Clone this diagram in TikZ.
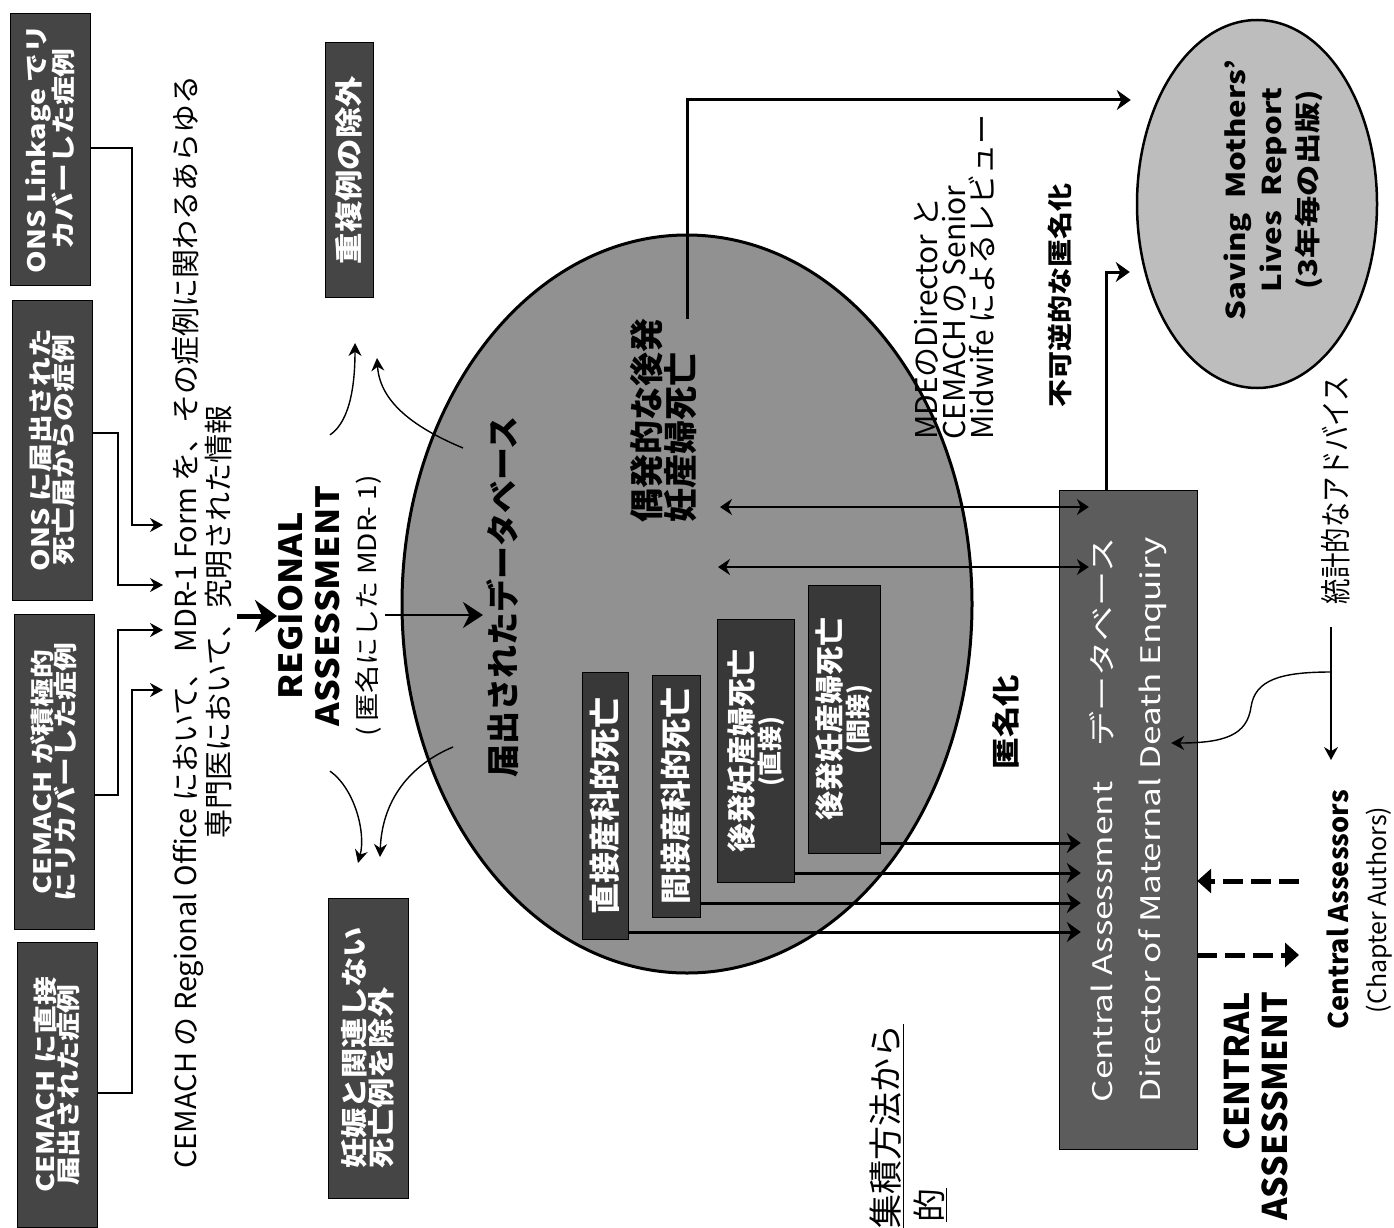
\documentclass[tikz,border=0pt]{standalone}
\usepackage{fontspec}
\setmainfont{Noto Sans CJK JP}
\newfontfamily\jpwide{Noto Sans CJK JP}[FakeStretch=1.2]
\newfontfamily\jpmid{Noto Sans CJK JP}[FakeStretch=1.12]
\newfontfamily\jpnarrow{Noto Sans CJK JP}[FakeStretch=0.82]
\newfontfamily\jpcentral{Noto Sans CJK JP}[FakeStretch=1.3]
\usetikzlibrary{arrows.meta,shapes.geometric}
\definecolor{BoxDark}{gray}{0.27}
\definecolor{InnerDark}{gray}{0.22}
\definecolor{DbGray}{gray}{0.57}
\definecolor{ReportGray}{gray}{0.74}
\definecolor{CentralGray}{gray}{0.36}
\tikzset{
  srcbox/.style={rotate=90,draw=black,fill=BoxDark,text=white,align=center,inner sep=2pt,minimum height=80pt,font=\jpwide\bfseries\fontsize{24}{23}\selectfont},
  exclbox/.style={rotate=90,draw=black,fill=BoxDark,text=white,inner sep=2pt,font=\jpmid\bfseries\fontsize{27}{25}\selectfont},
  innerbox/.style={rotate=90,draw=black,fill=InnerDark,text=white,align=center,inner sep=2pt,font=\bfseries\fontsize{31}{28}\selectfont},
  lbl/.style={rotate=90,inner sep=0pt,align=center},
  conn/.style={-{Stealth[length=13pt,width=14pt]},line width=1.4pt},
  thickconn/.style={-{Stealth[length=14pt,width=20pt]},line width=3pt},
  twoway/.style={{Stealth[length=12pt,width=16pt]}-{Stealth[length=12pt,width=16pt]},line width=1.3pt},
  dashconn/.style={-{Triangle[length=14pt,width=24pt]},line width=5pt,dash pattern=on 20pt off 8pt},
  curvearrow/.style={-{Stealth[length=13pt,width=13pt]},line width=1.4pt}
}
\begin{document}
\begin{tikzpicture}[x=1pt,y=-1pt]
\clip (0,0) rectangle (1394,1228);
\fill[white] (0,0) rectangle (1394,1228);

\node[srcbox,minimum width=272pt] (srcA) at (50,149) {ONS Linkage でリ\\カバーした症例};
\node[srcbox,minimum width=300pt] (srcB) at (52,450) {ONS に届出された\\死亡届からの症例};
\node[srcbox,minimum width=315pt] (srcC) at (54,772) {CEMACH が積極的\\にリカバーした症例};
\node[srcbox,minimum width=285pt] (srcD) at (57,1085) {CEMACH に直接\\届出された症例};

\node[lbl,font=\fontsize{29}{28}\selectfont] (msg) at (202,622) {CEMACH の Regional Office において、 MDR-1 Form を、その症例に関わるあらゆる\\専門医において、究明された情報};
\coordinate (msgA) at (163,525);
\coordinate (msgB) at (163,585);
\coordinate (msgC) at (163,630);
\coordinate (msgD) at (163,690);
\draw[conn] (srcA.south |- 0,148) -| (132,525) -- (msgA);
\draw[conn] (srcB.south |- 0,433) -| (118,585) -- (msgB);
\draw[conn] (srcC.south |- 0,795) -| (118,630) -- (msgC);
\draw[conn] (srcD.south |- 0,1093) -| (132,690) -- (msgD);

\node[lbl,font=\jpmid\bfseries\fontsize{32}{37}\selectfont] (regional) at (330,606) {REGIONAL\\ASSESSMENT\\{\mdseries\fontsize{25}{34}\selectfont ( 匿名にした MDR- 1)}};
\coordinate (msgOut) at (237,616);
\coordinate (regIn) at (277,616);
\draw[line width=5pt,-{Stealth[length=22pt,width=32pt]}] (msgOut) -- (regIn);

\node[ellipse,draw,line width=3pt,fill=DbGray,minimum width=570pt,minimum height=738pt,inner sep=0pt] (db) at (687,604) {};
\node[ellipse,rotate=90,draw,line width=2.5pt,fill=ReportGray,minimum width=368pt,minimum height=240pt,inner sep=0pt] (report) at (1257,204) {};
\node[lbl,font=\jpwide\bfseries\fontsize{26}{36}\selectfont] (reportTxt) at (1273,190) {Saving\ \ Mothers’\\Lives\ \ Report\\(3年毎の出版)};

\coordinate (regOut) at (385,615);
\coordinate (dbIn) at (483,615);
\draw[line width=2.5pt,-{Stealth[length=20pt,width=26pt]}] (regOut) -- (dbIn);

\node[exclbox,minimum width=300pt,minimum height=80pt,align=left] (exclA) at (368,1048) {妊娠と関連しない\\死亡例を除外};
\node[exclbox,minimum width=255pt,minimum height=48pt,align=center,font=\jpmid\bfseries\fontsize{28}{28}\selectfont] (exclB) at (349,170) {重複例の除外};
\coordinate (exA) at (358,863);
\coordinate (exB) at (380,857);
\coordinate (dupA) at (355,343);
\coordinate (dupB) at (377,358);
\coordinate (dbL) at (453,747);
\coordinate (dbU) at (463,448);
\draw[curvearrow] ([yshift=-34pt]regional.west) .. controls +(25,18) and +(8,-30) .. (exA);
\draw[curvearrow] (dbL) .. controls (410,765) and (382,800) .. (exB);
\draw[curvearrow] ([yshift=40pt]regional.east) .. controls +(22,-15) and +(0,35) .. (dupA);
\draw[curvearrow] (dbU) .. controls (420,430) and (380,405) .. (dupB);

\node[lbl,font=\bfseries\fontsize{33}{33}\selectfont] (dbtitle) at (503,597) {届出されたデータベース};
\node[lbl,anchor=west,align=left,font=\bfseries\fontsize{34}{34}\selectfont] (incid) at (664,523) {偶発的な後発\\妊産婦死亡};

\node[innerbox,minimum width=267pt,minimum height=46pt] (in1) at (605,806) {直接産科的死亡};
\node[innerbox,minimum width=242pt,minimum height=48pt] (in2) at (676,796) {間接産科的死亡};
\node[innerbox,minimum width=263pt,minimum height=77pt,font=\bfseries\fontsize{29}{27}\selectfont] (in3) at (756,751) {後発妊産婦死亡\\{\fontsize{25}{25}\selectfont (直接)}};
\node[innerbox,minimum width=268pt,minimum height=72pt,font=\bfseries\fontsize{29}{27}\selectfont] (in4) at (844,719) {後発妊産婦死亡\\{\fontsize{25}{25}\selectfont (間接)}};

\node[rotate=90,draw=black,fill=CentralGray,text=white,align=center,minimum width=659pt,minimum height=138pt,inner sep=0pt,font=\jpcentral\fontsize{27}{48}\selectfont] (central) at (1128,820) {Central Assessment　データベース\\Director of Maternal Death Enquiry};

\draw[thickconn,shorten >=5pt] (incid.east -| 687,0) |- (report.north |- 0,100);
\draw[thickconn,shorten >=6pt] (central.east -| 1106,0) |- (report.north |- 0,272);

\coordinate (twA) at (720,507);
\coordinate (twB) at (718,567);
\draw[twoway,shorten >=-30pt] (twA) -- (central.north |- twA);
\draw[twoway,shorten >=-30pt] (twB) -- (central.north |- twB);

\draw[thickconn,shorten >=-22pt] (in4.south |- 0,843) -- (central.north |- 0,843);
\draw[thickconn,shorten >=-22pt] (in3.south |- 0,873) -- (central.north |- 0,873);
\draw[thickconn,shorten >=-22pt] (in2.south |- 0,903) -- (central.north |- 0,903);
\draw[thickconn,shorten >=-22pt] (in1.south |- 0,932) -- (central.north |- 0,932);

\node[lbl,anchor=west,align=left,font=\fontsize{30}{28}\selectfont] (mde) at (955,440) {MDEのDirector と\\CEMACH の Senior\\Midwife によるレビュー};
\node[lbl,font=\jpmid\bfseries\fontsize{25}{25}\selectfont] (irrev) at (1060,295) {不可逆的な匿名化};
\node[lbl,font=\jpmid\bfseries\fontsize{28}{28}\selectfont] (anon) at (1006,722) {匿名化};
\node[lbl,font=\jpnarrow\fontsize{31}{31}\selectfont] (advice) at (1336,490) {統計的なアドバイス};
\node[lbl,font=\fontsize{25}{38}\selectfont] (assessors) at (1360,910) {{\bfseries\fontsize{27}{38}\selectfont Central Assessors}\\(Chapter Authors)};
\node[lbl,anchor=east,align=right,font=\bfseries\fontsize{34}{38}\selectfont] (centralTitle) at (1256,992) {CENTRAL\\ASSESSMENT};

\coordinate (advTop) at (1331,627);
\coordinate (advFork) at (1331,672);
\coordinate (advDown) at (1331,760);
\draw[conn] (advTop) -- (advDown);
\draw[conn,shorten >=-26pt] (advFork) .. controls (1280,672) and (1255,680) .. (1251,707) .. controls (1247,735) and (1225,743) .. (central.south |- 0,743);

\coordinate (dashA) at (1299,881);
\coordinate (dashB) at (1299,955);
\draw[dashconn] (dashA) -- (central.south |- dashA);
\draw[dashconn] (central.south |- dashB) -- (dashB);

\node[lbl,anchor=east,font=\fontsize{34}{34}\selectfont] (title1) at (887,1024) {\underline{集積方法から}};
\node[lbl,anchor=east,font=\fontsize{34}{34}\selectfont] (title2) at (930,1188) {\underline{的}};
\end{tikzpicture}
\end{document}
